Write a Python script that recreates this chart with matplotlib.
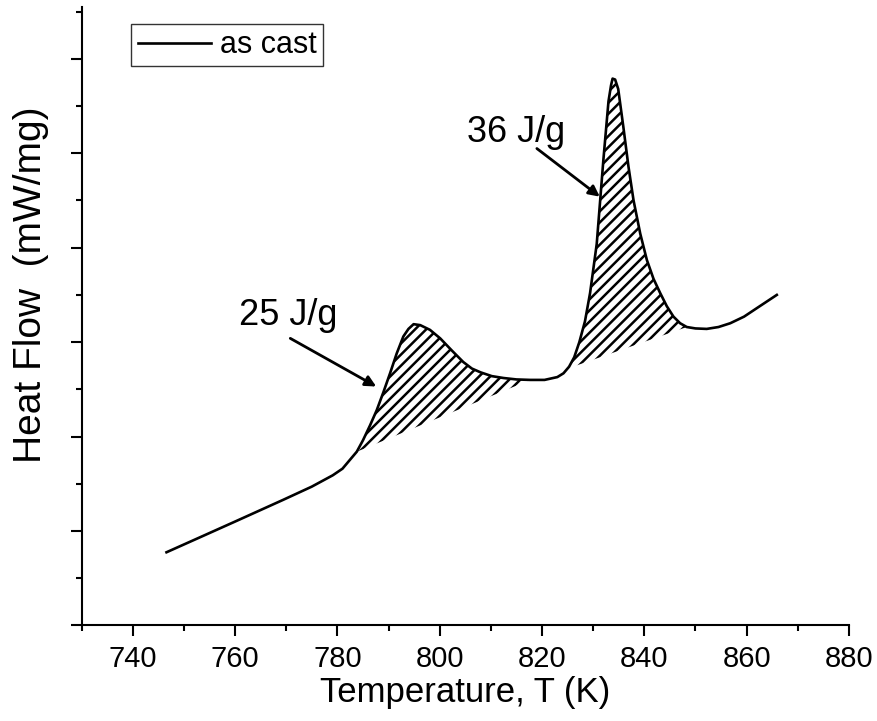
import matplotlib
matplotlib.use("Agg")
import matplotlib.pyplot as plt
from matplotlib.ticker import MultipleLocator

# --- DSC trace (T in K, heat flow in arbitrary units) ---
temp = [746.6, 753.0, 760.0, 769.4, 775.0, 779.1, 781.0, 782.4, 783.8, 785.0,
        786.4, 787.7, 789.0, 790.3, 791.6, 792.9, 793.9, 794.9, 796.2, 798.1,
        800.1, 802.4, 804.6, 806.3, 808.0, 810.2, 812.5, 815.0, 817.7, 820.5,
        823.0, 824.2, 825.3, 826.3, 827.3, 828.4, 829.4, 830.7, 832.0, 833.0,
        833.5, 833.8, 834.3, 834.9, 835.9, 836.9, 837.9, 839.2, 840.5, 841.8,
        843.1, 844.4, 845.7, 847.0, 848.3, 850.0, 852.2, 854.5, 856.8, 859.5,
        862.0, 865.9]
heat = [0.775, 0.93, 1.10, 1.33, 1.47, 1.59, 1.66, 1.75, 1.84, 1.96,
        2.12, 2.28, 2.47, 2.67, 2.88, 3.06, 3.14, 3.19, 3.18, 3.13,
        3.04, 2.91, 2.79, 2.72, 2.68, 2.64, 2.62, 2.605, 2.60, 2.60,
        2.63, 2.67, 2.74, 2.84, 3.00, 3.22, 3.52, 4.04, 4.93, 5.55,
        5.72, 5.79, 5.78, 5.68, 5.28, 4.86, 4.50, 4.15, 3.87, 3.67,
        3.52, 3.38, 3.27, 3.20, 3.16, 3.145, 3.14, 3.16, 3.20, 3.27,
        3.36, 3.50]

# straight baselines under the two peaks (start and end points)
base1_t = [783.8, 817.7]
base1_y = [1.84, 2.60]
base2_t = [825.0, 848.3]
base2_y = [2.72, 3.16]

peak_labels = ["25 J/g", "36 J/g"]
label_pos = [(770.3, 3.28), (814.9, 5.22)]
arrow_tip = [(787.6, 2.53), (831.3, 4.54)]
arrow_tail = [(770.8, 3.04), (819.0, 5.05)]

plt.rcParams['font.family'] = ['Liberation Sans', 'DejaVu Sans']
plt.rcParams['hatch.linewidth'] = 1.8

fig = plt.figure(figsize=(8.78, 7.21), dpi=100)
ax = fig.add_axes([0.0929, 0.1325, 0.874, 0.858])

line, = ax.plot(temp, heat, color="black", lw=1.9, label="as cast", zorder=3)


def hatch_peak(t0t1, y0y1):
    t0, t1 = t0t1
    px = [t0] + [t for t in temp if t0 < t < t1] + [t1]
    py = [y0y1[0]] + [h for t, h in zip(temp, heat) if t0 < t < t1] + [y0y1[1]]
    ax.fill(px, py, facecolor="none", edgecolor="black", hatch="///", lw=0, zorder=2)


hatch_peak(base1_t, base1_y)
hatch_peak(base2_t, base2_y)

for txt, pos, tip, tail in zip(peak_labels, label_pos, arrow_tip, arrow_tail):
    ax.text(pos[0], pos[1], txt, fontsize=26, ha="center", va="center")
    ax.annotate("", xy=tip, xytext=tail,
                arrowprops=dict(arrowstyle="-|>", color="black", lw=2,
                                mutation_scale=16, shrinkA=0, shrinkB=0))

ax.set_xlim(730, 880)
ax.set_ylim(0, 6.55)
ax.xaxis.set_major_locator(MultipleLocator(20))
ax.xaxis.set_minor_locator(MultipleLocator(10))
ax.yaxis.set_major_locator(MultipleLocator(1))
ax.yaxis.set_minor_locator(MultipleLocator(0.5))
ax.set_yticklabels([])
ax.tick_params(which="major", direction="out", length=8, width=1.5, pad=6)
ax.tick_params(which="minor", direction="out", length=4, width=1.5)
ax.tick_params(axis="x", which="major", labelsize=21)

for s in ["top", "right"]:
    ax.spines[s].set_visible(False)
for s in ["left", "bottom"]:
    ax.spines[s].set_linewidth(1.5)

ax.set_xlabel("Temperature, T (K)", fontsize=25, labelpad=2)
ax.set_ylabel("Heat Flow  (mW/mg)", fontsize=28)
ax.yaxis.set_label_coords(-0.043, 0.55)

leg = ax.legend(handles=[line], loc="upper left", bbox_to_anchor=(0.065, 0.972),
                fontsize=22, frameon=True, fancybox=False, handlelength=2.4,
                handletextpad=0.3, borderpad=0.2, borderaxespad=0)
leg.get_frame().set_edgecolor("black")
leg.get_frame().set_linewidth(1.0)

fig.savefig("out.png", dpi=100)
